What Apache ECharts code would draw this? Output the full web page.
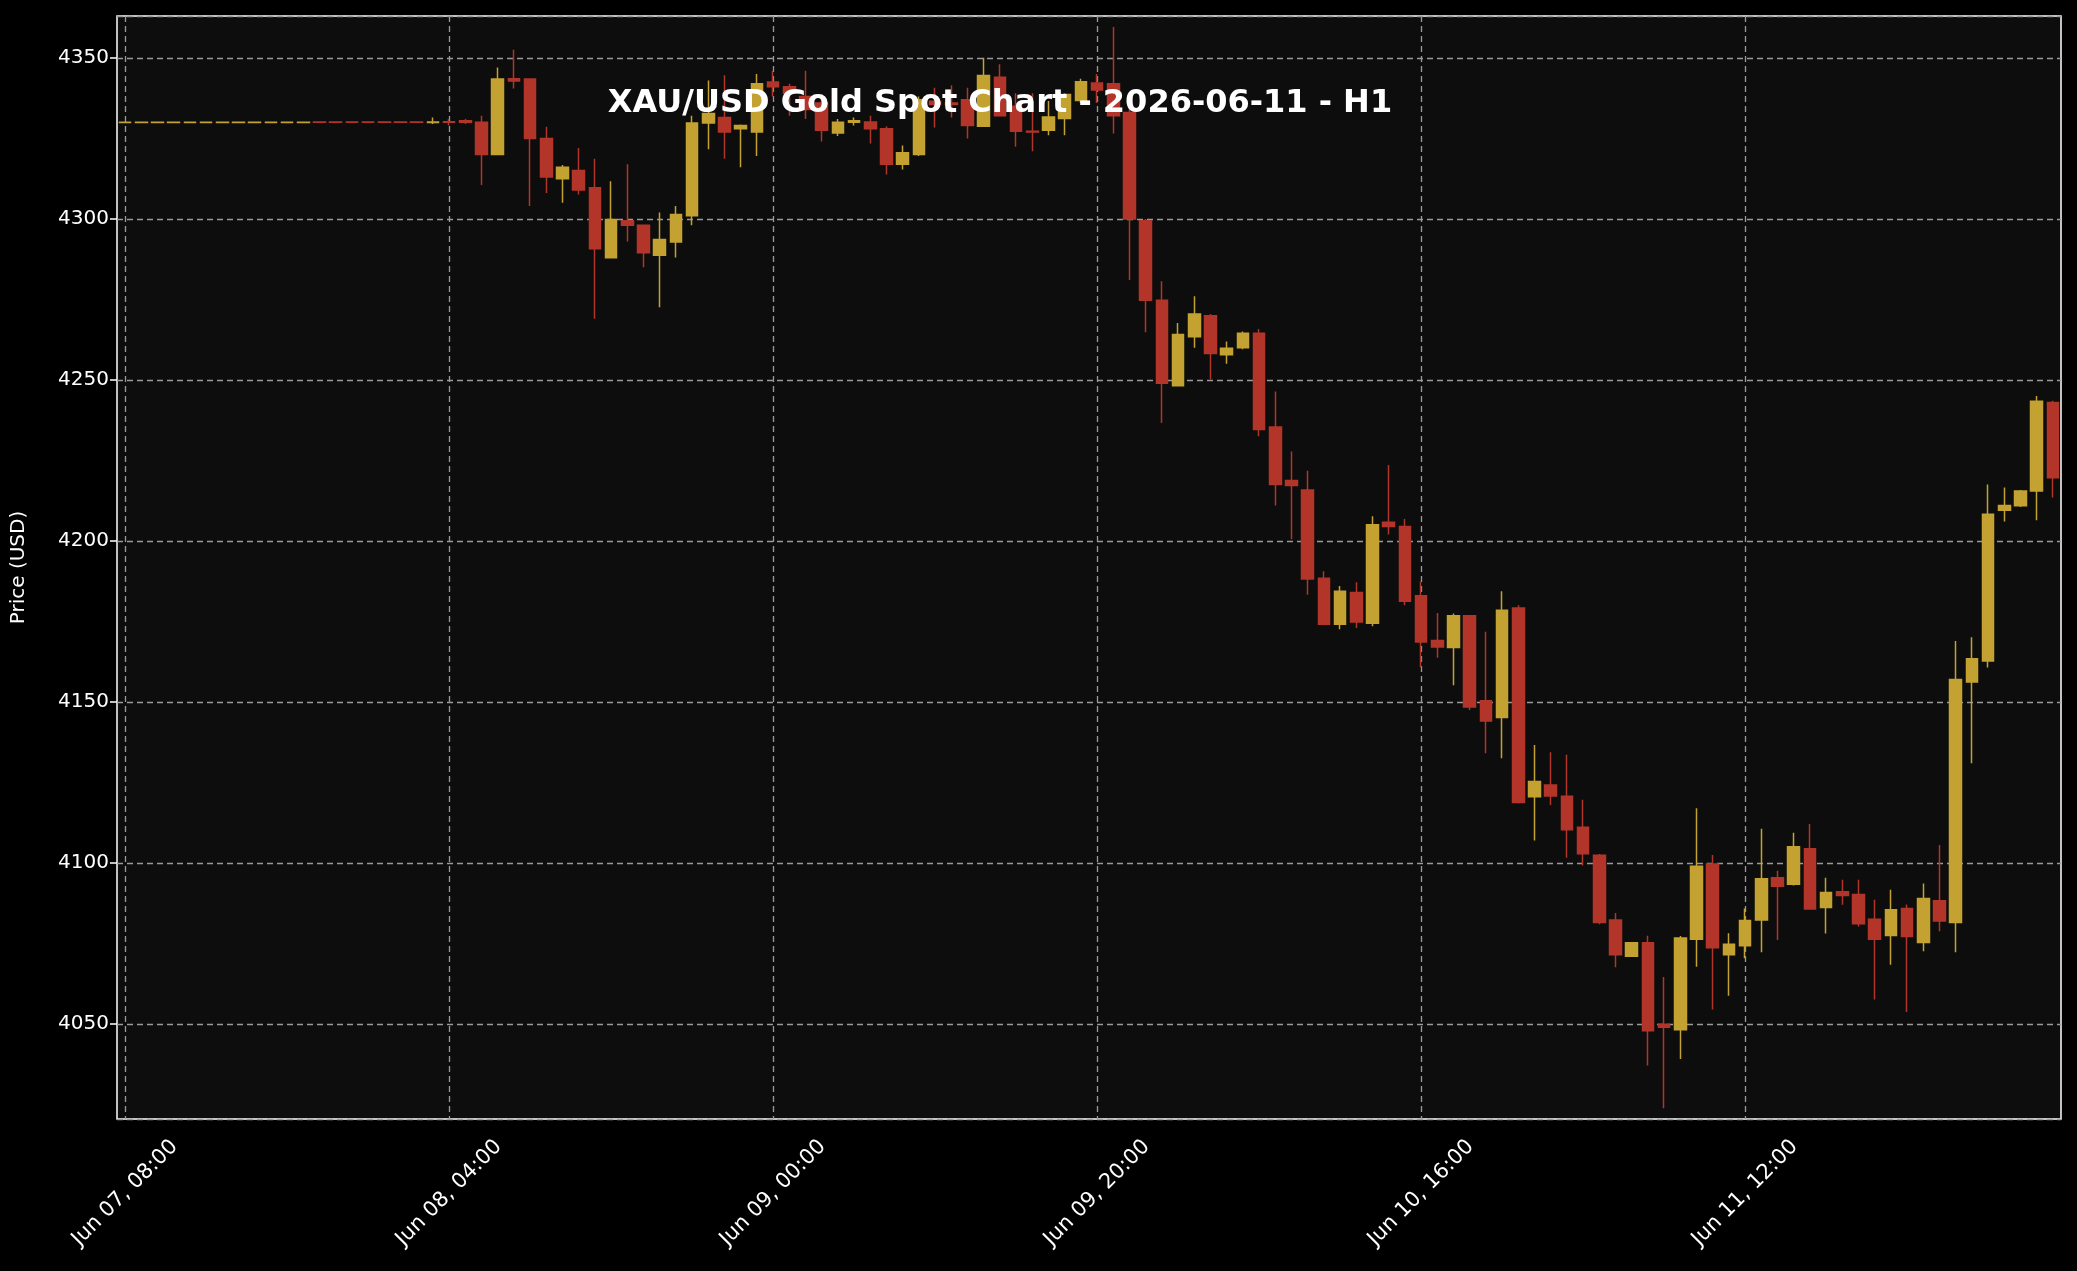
<!DOCTYPE html>
<html>
<head>
<meta charset="utf-8">
<script src="https://cdn.jsdelivr.net/npm/echarts@6/dist/echarts.min.js"></script>
<style>
  html, body { margin: 0; padding: 0; background: #000; }
  #chart { width: 2077px; height: 1271px; }
</style>
</head>
<body>
<div id="chart"></div>
<script>
// hourly candles, Jun 07 08:00 onwards
const opens = [
  4329.9, 4329.9, 4329.9, 4329.9, 4329.9, 4329.9, 4329.9, 4329.9, 4329.9, 4329.9, 4329.9, 4329.9,
  4330.1, 4330.1, 4330.1, 4330.1, 4330.1, 4330.1, 4330.1, 4329.9, 4330.2,
  4330.5, 4330, 4320, 4343.5, 4343.4, 4325, 4312.5, 4315, 4309.7, 4287.9,
  4299.4, 4298, 4288.7, 4292.8, 4301, 4329.8, 4331.5, 4328, 4327, 4342.5,
  4341, 4338, 4336, 4326.7, 4330, 4330.1, 4328, 4317, 4320, 4336.5,
  4336, 4337, 4328.8, 4344, 4335, 4327.2, 4327.5, 4331.2, 4336.8, 4342.2,
  4342, 4333, 4299.4, 4274.7, 4248.2, 4263.4, 4269.9, 4257.8, 4260, 4264.5,
  4235.4, 4218.8, 4215.8, 4188.4, 4174.1, 4184, 4174.4, 4205.8, 4204.5, 4183,
  4169.1, 4166.9, 4176.8, 4150.4, 4145.2, 4179.2, 4120.6, 4124.2, 4120.7, 4111.1,
  4102.4, 4082.3, 4071, 4075.2, 4049.9, 4048.2, 4076.3, 4099.7, 4071.5, 4074.3,
  4082.3, 4095.4, 4093.4, 4104.4, 4086.2, 4091.1, 4090.2, 4082.5, 4077.5, 4085.9,
  4075.3, 4088.3, 4081.5, 4156.2, 4162.7, 4209.5, 4210.9, 4215.5, 4243
];
const closes = [
  4330, 4330, 4330, 4330, 4330, 4330, 4330, 4330, 4330, 4330, 4330, 4330,
  4330, 4330, 4330, 4330, 4330, 4330, 4330, 4330.1, 4330,
  4330, 4320, 4343.4, 4342.8, 4325, 4313, 4316, 4309, 4290.7, 4299.8,
  4298, 4289.5, 4293.6, 4301.4, 4329.8, 4332.7, 4327, 4329, 4342, 4341,
  4339, 4334, 4327.5, 4330, 4330.5, 4328, 4317, 4320.5, 4337, 4335.5,
  4335.5, 4329, 4344.5, 4332, 4327.2, 4327, 4331.6, 4338.6, 4342.6, 4340,
  4332, 4300, 4274.7, 4249, 4264.1, 4270.5, 4258.2, 4259.8, 4264.5, 4234.6,
  4217.5, 4217.2, 4188.2, 4174.1, 4184.4, 4174.8, 4205, 4204.5, 4181.3, 4168.6,
  4167.1, 4176.8, 4148.4, 4144.1, 4178.5, 4118.8, 4125.3, 4120.8, 4110.3, 4102.9,
  4081.5, 4071.5, 4075.2, 4047.9, 4049, 4076.7, 4099, 4073.7, 4074.8, 4082.1,
  4095.1, 4092.8, 4105, 4085.7, 4090.8, 4089.9, 4081.1, 4076.3, 4085.5, 4077.2,
  4089, 4082, 4157, 4163.4, 4208.3, 4211, 4215.5, 4243.4, 4219.6
];
const lows = [
  4329.8, 4329.8, 4329.8, 4329.8, 4329.8, 4329.8, 4329.8, 4329.8, 4329.8, 4329.8, 4329.8, 4329.8,
  4329.9, 4329.9, 4329.9, 4329.9, 4329.9, 4329.9, 4329.9, 4329.5, 4329,
  4329.5, 4310.5, 4320, 4340.5, 4304, 4308, 4305, 4307.6, 4269, 4287.9,
  4293, 4285, 4272.6, 4288, 4298, 4321.6, 4318.7, 4316, 4319.5, 4338,
  4332, 4331, 4324, 4325.7, 4329, 4323.4, 4313.8, 4315.3, 4319.5, 4328.4,
  4331.5, 4325, 4328.8, 4332, 4322.4, 4321, 4326, 4326, 4336, 4336,
  4326.5, 4281, 4264.8, 4236.6, 4248, 4260, 4250.2, 4255, 4259.5, 4232.5,
  4211, 4200.5, 4183.3, 4174, 4172.6, 4173, 4173.5, 4202, 4180, 4160.8,
  4163.7, 4155.2, 4147.5, 4134.1, 4132.5, 4118.5, 4107, 4118, 4101.6, 4099.2,
  4081, 4067.6, 4070.8, 4037.1, 4023.8, 4039.1, 4067.8, 4054.5, 4058.8, 4070.4,
  4072.3, 4076.1, 4093, 4085.5, 4078.1, 4087, 4080.3, 4057.6, 4068.4, 4053.7,
  4072.6, 4078.8, 4072.3, 4131, 4160.7, 4206, 4210.5, 4206.4, 4213.5
];
const highs = [
  4330.1, 4330.1, 4330.1, 4330.1, 4330.1, 4330.1, 4330.1, 4330.1, 4330.1, 4330.1, 4330.1, 4330.1,
  4330.2, 4330.2, 4330.2, 4330.2, 4330.2, 4330.2, 4330.2, 4331.5, 4331,
  4331, 4332, 4347, 4352.5, 4343.4, 4328.6, 4316.7, 4322, 4318.7, 4311.7,
  4317, 4298, 4302, 4304, 4332, 4343, 4344.6, 4329.3, 4345, 4346,
  4342, 4346, 4338, 4331, 4331.5, 4332, 4328.8, 4322.8, 4338, 4340.7,
  4341.5, 4340.7, 4350, 4348, 4339, 4339, 4336.6, 4339, 4343.5, 4345,
  4359.6, 4335, 4300, 4280.6, 4267.7, 4276, 4270.5, 4261.9, 4265, 4265.8,
  4246.4, 4227.8, 4221.8, 4190.6, 4186, 4187.2, 4207.7, 4223.6, 4206.8, 4187.4,
  4177.6, 4177.5, 4177, 4171.8, 4184.4, 4180, 4136.6, 4134.4, 4133.6, 4119.6,
  4102.8, 4084.5, 4075.5, 4077.4, 4064.6, 4077.3, 4117, 4102.5, 4078.2, 4085.9,
  4110.6, 4097.6, 4109.4, 4112.1, 4095.4, 4094.8, 4094.8, 4088.6, 4091.7, 4087.1,
  4093.6, 4105.6, 4168.9, 4170.1, 4217.5, 4216.6, 4215.8, 4245, 4243.5
];
const startTime = Date.UTC(2026, 5, 7, 8, 0);
const monthNames = ['Jan', 'Feb', 'Mar', 'Apr', 'May', 'Jun', 'Jul', 'Aug', 'Sep', 'Oct', 'Nov', 'Dec'];

const pad = (n) => (n < 10 ? '0' + n : '' + n);
const categories = opens.map((_, i) => {
  const d = new Date(startTime + i * 3600000);
  return `${monthNames[d.getUTCMonth()]} ${pad(d.getUTCDate())}, ${pad(d.getUTCHours())}:00`;
});
const candles = opens.map((o, i) => [o, closes[i], lows[i], highs[i]]);

const gold = '#c4a232';
const red = '#b3352a';
const gridLine = { show: true, lineStyle: { color: '#9a9a9a', type: [6, 4], width: 1.3 } };

let charts = echarts.init(document.getElementById('chart'));
charts.setOption({
    backgroundColor: '#000000',
    animation: false,
    title: {
        text: 'XAU/USD Gold Spot Chart - 2026-06-11 - H1',
        left: 995,
        top: 83,
        textAlign: 'center',
        z: 10,
        textStyle: { color: '#ffffff', fontSize: 32, fontWeight: 'bold', fontFamily: 'DejaVu Sans' }
    },
    grid: {
        left: 117, right: 16, top: 16, bottom: 152,
        show: true, backgroundColor: '#0d0d0d', borderColor: '#ffffff', borderWidth: 1.5
    },
    xAxis: {
        type: 'category',
        data: categories,
        boundaryGap: true,
        axisLine: { show: false },
        axisTick: { interval: 19, alignWithLabel: true, length: 7, lineStyle: { color: '#ffffff', width: 1.5 } },
        axisLabel: {
            interval: 19, rotate: 45, color: '#ffffff', fontSize: 21, fontFamily: 'DejaVu Sans',
            align: 'center', verticalAlign: 'middle', margin: 74
        },
        splitLine: Object.assign({ interval: 19, alignWithLabel: true }, gridLine)
    },
    yAxis: {
        type: 'value',
        min: 4020.5,
        max: 4363,
        splitNumber: 7,
        name: 'Price (USD)',
        nameLocation: 'middle',
        nameGap: 88,
        nameTextStyle: { color: '#ffffff', fontSize: 20, fontFamily: 'DejaVu Sans' },
        axisLine: { show: false },
        axisTick: { show: true, length: 7, lineStyle: { color: '#ffffff', width: 1.5 } },
        axisLabel: {
            color: '#ffffff', fontSize: 20, fontFamily: 'DejaVu Sans',
            showMinLabel: false, showMaxLabel: false,
            formatter: (v) => String(v)
        },
        splitLine: gridLine
    },
    series: [
        {
            type: 'candlestick',
            data: candles,
            barWidth: 12,
            itemStyle: {
                color: gold, color0: red,
                borderColor: gold, borderColor0: red,
                borderWidth: 1.5
            }
        }
    ]
});
</script>
</body>
</html>
